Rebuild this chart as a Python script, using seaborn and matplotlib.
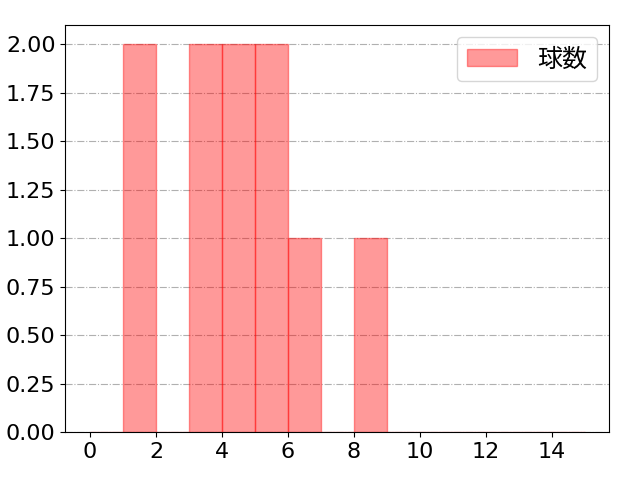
import numpy as np
import pandas as pd
import matplotlib
matplotlib.use('Agg')
import matplotlib.pyplot as plt
import seaborn as sns

# Pitch counts per appearance
pitch_values = [1, 1, 3, 3, 4, 4, 5, 5, 6, 8]
bin_edges = list(range(0, 16))
series_label = '球数'

plt.rcParams['font.family'] = ['DejaVu Sans', 'Noto Sans CJK JP']
plt.rcParams['font.size'] = 16

df = pd.DataFrame({'pitches': pitch_values})

fig, ax = plt.subplots(figsize=(6.4, 4.8), dpi=100)
sns.histplot(data=df, x='pitches', bins=bin_edges, color='red', alpha=0.4,
             edgecolor=(1, 0, 0, 0.4), linewidth=1, label=series_label, ax=ax)

ax.set_yticks(np.arange(0, 2.01, 0.25))
ax.yaxis.set_major_formatter(matplotlib.ticker.FormatStrFormatter('%.2f'))
ax.set_xticks(range(0, 15, 2))
ax.set_xlabel('')
ax.set_ylabel('')
ax.grid(axis='y', linestyle='-.', color='#b0b0b0')
ax.set_axisbelow(True)
ax.legend(loc='upper right', fontsize=18, handlelength=2.0)

fig.subplots_adjust(left=0.102, right=0.952, top=0.948, bottom=0.1)
plt.savefig('out.png')
